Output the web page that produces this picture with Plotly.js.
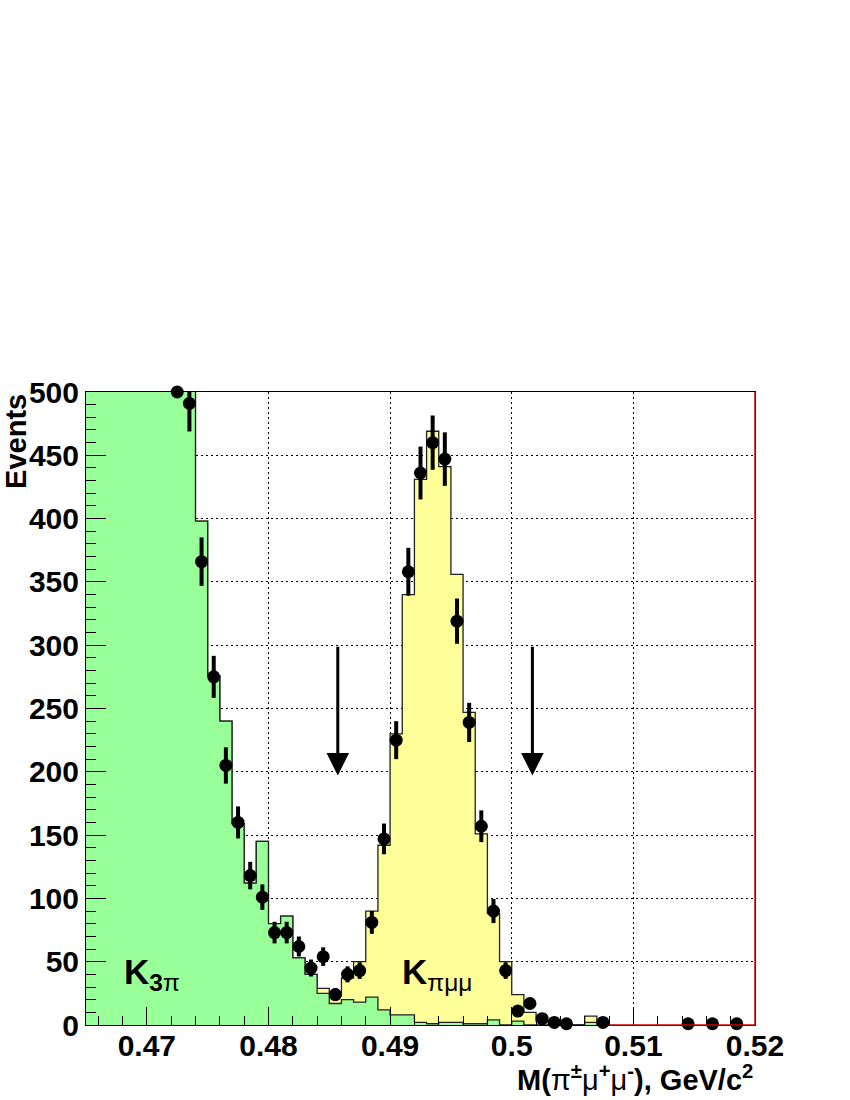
<!DOCTYPE html>
<html>
<head>
<meta charset="utf-8">
<script src="https://cdn.plot.ly/plotly-3.0.1.min.js"></script>
<style>html,body{margin:0;padding:0;background:#fff;}</style>
</head>
<body>
<div id="chart" style="width:850px;height:1100px;"></div>
<script>
// Histogram bin edges (GeV/c^2)
const binEdges = [0.465,0.466,0.467,0.468,0.469,0.470,0.471,0.472,0.473,0.474,0.475,0.476,0.477,0.478,0.479,0.480,0.481,0.482,0.483,0.484,0.485,0.486,0.487,0.488,0.489,0.490,0.491,0.492,0.493,0.494,0.495,0.496,0.497,0.498,0.499,0.500,0.501,0.502,0.503,0.504,0.505,0.506,0.507,0.508];
// K -> 3pi background (first bins are off scale, estimated)
const k3pi = [2400,2100,1800,1500,1250,1050,870,720,600,398,276,240,159,112,145,80,86,53,40,25,17,20,18,22,12,8,8,2,1,2,2,1,1,4,0,3,0,0,0,0,0,2,0];
// K -> pi mu mu signal (stacked on top of K3pi)
const kpimumu = [0,0,0,0,0,0,0,0,0,0,0,0,0,0,0,0,0,0,0,4,6,17,32,68,130,222,332,429,468,439,354,246,150,84,50,21,10,3,1,0,0,5,0];
// Data points (bin centres, counts)
const dataX = [0.4735,0.4745,0.4755,0.4765,0.4775,0.4785,0.4795,0.4805,0.4815,0.4825,0.4835,0.4845,0.4855,0.4865,0.4875,0.4885,0.4895,0.4905,0.4915,0.4925,0.4935,0.4945,0.4955,0.4965,0.4975,0.4985,0.4995,0.5005,0.5015,0.5025,0.5035,0.5045,0.5075,0.5145,0.5165,0.5185];
const dataY = [491,366,275,205,160,118,101,73,73,62,45,54,24,40,43,81,147,225,358,436,460,447,319,239,157,90,43,11,17,5,2,1,2,1,1,1];
// Off-scale data point drawn at the top edge
const overflowX = [0.4725];
const overflowY = [500];
// Signal window cut positions
const cutX = [0.4857, 0.5017];
const cutTop = 300, cutTip = 197;

const total = k3pi.map((v, i) => v + kpimumu[i]);
const stepY = arr => arr.concat([arr[arr.length - 1]]);

const FONT = 'Liberation Sans, Arial, Helvetica, sans-serif';

const traces = [
  {x: binEdges, y: stepY(total), type: 'scatter', mode: 'lines',
   line: {shape: 'hv', color: '#222', width: 1.3}, fill: 'tozeroy', fillcolor: '#ffff99', hoverinfo: 'skip'},
  {x: binEdges, y: stepY(k3pi), type: 'scatter', mode: 'lines',
   line: {shape: 'hv', color: '#222', width: 1.3}, fill: 'tozeroy', fillcolor: '#99ff99', hoverinfo: 'skip'},
  {x: dataX, y: dataY, type: 'scatter', mode: 'markers', cliponaxis: true,
   marker: {size: 1, color: 'rgba(0,0,0,0)'},
   error_y: {type: 'sqrt', visible: true, color: 'black', thickness: 4, width: 0}},
  {x: dataX, y: dataY, type: 'scatter', mode: 'markers', cliponaxis: false,
   marker: {size: 13, color: 'black', symbol: 'circle'}},
  {x: overflowX, y: overflowY, type: 'scatter', mode: 'markers', cliponaxis: false,
   marker: {size: 13, color: 'black', symbol: 'circle'}}
];

const annotations = cutX.map(cx => ({
  x: cx, y: cutTip, ax: cx, ay: cutTop, xref: 'x', yref: 'y', axref: 'x', ayref: 'y',
  showarrow: true, arrowhead: 2, arrowsize: 1.5, arrowwidth: 3, arrowcolor: 'black', text: '', standoff: 0
}));
annotations.push(
  {x: 0.468, y: 40, xref: 'x', yref: 'y', xanchor: 'left', yanchor: 'middle', showarrow: false,
   text: 'K<sub>3<span style="font-weight:normal">π</span></sub>', font: {family: FONT, size: 35, weight: 'bold', color: 'black'}},
  {x: 0.4908, y: 40, xref: 'x', yref: 'y', xanchor: 'left', yanchor: 'middle', showarrow: false,
   text: 'K<sub><span style="font-weight:normal">πμμ</span></sub>', font: {family: FONT, size: 35, weight: 'bold', color: 'black'}},
  {x: -0.1055, y: 1.0, xref: 'paper', yref: 'paper', xanchor: 'center', yanchor: 'top', textangle: -90, showarrow: false,
   text: 'Events', font: {family: FONT, size: 29, weight: 'bold', color: 'black'}},
  {x: 1.0, y: -0.116, xref: 'paper', yref: 'paper', xanchor: 'right', yanchor: 'bottom', showarrow: false,
   text: 'M(<span style="font-weight:normal">π</span><sup>±</sup><span style="font-weight:normal">μ</span><sup>+</sup><span style="font-weight:normal">μ</span><sup>-</sup>), GeV/c<sup>2</sup>',
   font: {family: FONT, size: 29, weight: 'bold', color: 'black'}}
);

const axisCommon = {
  ticks: 'inside', tickcolor: 'black', tickwidth: 1,
  showgrid: true, gridcolor: 'black', gridwidth: 1, griddash: '2px,3px',
  showline: true, mirror: true, linecolor: 'black', linewidth: 1, zeroline: false,
  tickfont: {family: FONT, size: 30, weight: 'bold', color: 'black'}
};

const layout = {
  width: 850, height: 1100,
  margin: {l: 86, r: 95, t: 392, b: 75},
  paper_bgcolor: 'white', plot_bgcolor: 'white',
  showlegend: false,
  xaxis: Object.assign({}, axisCommon, {
    range: [0.465, 0.52], tick0: 0.47, dtick: 0.01, ticklen: 18, ticklabelstandoff: -6,
    minor: {dtick: 0.002, tick0: 0.47, ticks: 'inside', ticklen: 9, tickcolor: 'black', showgrid: false}
  }),
  yaxis: Object.assign({}, axisCommon, {
    range: [0, 500], tick0: 0, dtick: 50, ticklen: 20,
    minor: {dtick: 10, tick0: 0, ticks: 'inside', ticklen: 10, tickcolor: 'black', showgrid: false}
  }),
  shapes: [
    {type: 'line', xref: 'paper', yref: 'paper', x0: 1, x1: 1, y0: 0, y1: 1, line: {color: '#cc0000', width: 1.5}},
    {type: 'line', xref: 'x', yref: 'paper', x0: binEdges[binEdges.length - 1], x1: 0.52, y0: 0, y1: 0, line: {color: '#cc0000', width: 1.5}}
  ],
  annotations: annotations
};

Plotly.newPlot('chart', traces, layout, {displayModeBar: false, staticPlot: true});
</script>
</body>
</html>
